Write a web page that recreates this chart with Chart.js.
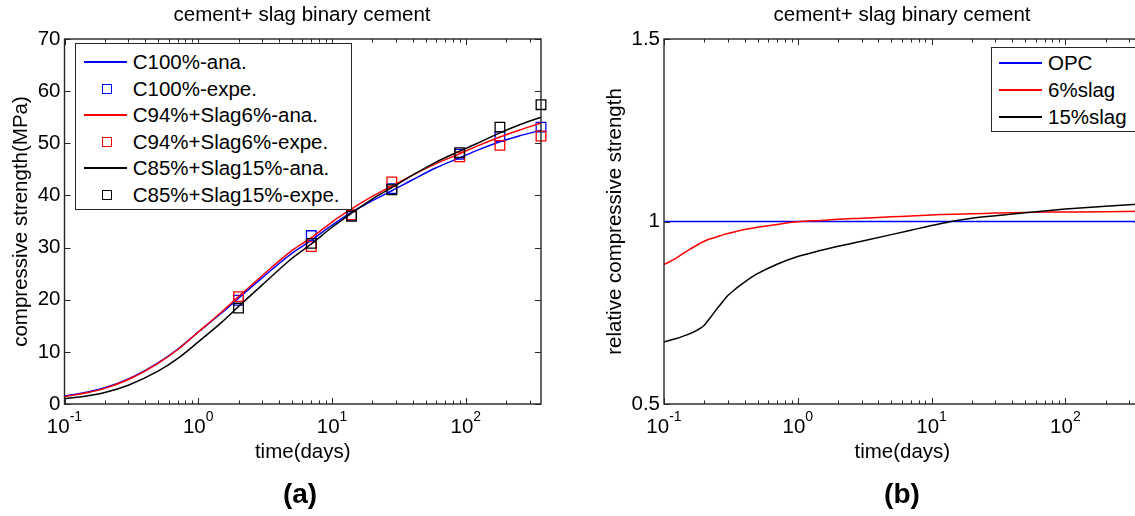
<!DOCTYPE html>
<html><head><meta charset="utf-8">
<script src="https://cdn.jsdelivr.net/npm/chart.js@4.4.1/dist/chart.umd.min.js"></script>
<style>
html,body{margin:0;padding:0;background:#fff;overflow:hidden;width:1135px;height:516px;}
#wrap{position:relative;width:1135px;height:516px;overflow:hidden;font-family:"Liberation Sans",Arial,sans-serif;color:#000;}
canvas{position:absolute;top:0;}
.ttl{position:absolute;top:1.6px;font-size:20.5px;line-height:24px;white-space:nowrap;transform:translateX(-50%);}
.tag{position:absolute;top:477px;font-size:28px;line-height:34px;font-weight:bold;transform:translateX(-50%);}
.legend{position:absolute;border:1px solid #262626;background:#fff;box-sizing:border-box;font-size:20.5px;}
.ln{position:absolute;height:1.5px;}
.mk{position:absolute;width:10px;height:10px;box-sizing:border-box;}
.lbl{position:absolute;white-space:nowrap;}
</style>
</head><body>
<div id="wrap">
  <canvas id="cA" width="560" height="516" style="left:0px"></canvas>
  <canvas id="cB" width="600" height="516" style="left:560px"></canvas>
  <div class="ttl" style="left:302px">cement+ slag binary cement</div>
  <div class="ttl" style="left:902px">cement+ slag binary cement</div>
  <div class="tag" style="left:300px">(a)</div>
  <div class="tag" style="left:902px">(b)</div>
  <div class="legend" id="legA" style="left:75px;top:43px;width:277px;height:167px"></div>
  <div class="legend" id="legB" style="left:991px;top:47px;width:170px;height:85px"></div>
</div>
<script>
// ---------- data: panel (a) ----------
const tAna    = [0.1, 0.15, 0.2, 0.3, 0.5, 0.7, 1, 1.5, 2, 3, 5, 7, 10, 14, 20, 28, 40, 60, 90, 120, 180, 250, 365];
const c100Ana = [1.5, 2.3, 3.1, 4.8, 7.9, 10.5, 13.8, 17.5, 20.3, 24.2, 28.9, 31.4, 34.3, 36.8, 39.0, 40.9, 43.0, 45.3, 47.2, 48.6, 50.3, 51.4, 52.5];
const c94Ana  = [1.4, 2.2, 3.0, 4.7, 7.8, 10.4, 13.8, 17.7, 20.6, 24.6, 29.4, 31.9, 34.9, 37.4, 39.8, 41.8, 43.9, 46.1, 48.0, 49.4, 51.2, 52.5, 53.9];
const c85Ana  = [1.0, 1.6, 2.2, 3.6, 6.3, 8.7, 11.9, 15.7, 18.7, 22.8, 27.9, 30.7, 33.9, 36.6, 39.3, 41.5, 43.9, 46.4, 48.5, 49.9, 52.0, 53.5, 55.0];
const tExp    = [2, 7, 14, 28, 90, 180, 365];
const c100Exp = [19.9, 32.3, 36.2, 41.3, 47.9, 51.3, 53.1];
const c94Exp  = [20.6, 30.2, 36.3, 42.6, 47.4, 49.6, 51.4];
const c85Exp  = [18.4, 30.8, 36.0, 41.1, 48.2, 53.1, 57.4];
// ---------- data: panel (b) ----------
const tRel  = [0.1, 0.12, 0.15, 0.18, 0.2, 0.22, 0.25, 0.28, 0.3, 0.35, 0.4, 0.5, 0.7, 1, 1.5, 2, 3, 5, 7, 10, 12, 15, 20, 30, 50, 100, 200, 365];
const opc   = [1, 1, 1, 1, 1, 1, 1, 1, 1, 1, 1, 1, 1, 1, 1, 1, 1, 1, 1, 1, 1, 1, 1, 1, 1, 1, 1, 1];
const slag6 = [0.882, 0.897, 0.920, 0.937, 0.946, 0.952, 0.958, 0.964, 0.967, 0.973, 0.978, 0.984, 0.992, 0.999, 1.003, 1.006, 1.009, 1.013, 1.015, 1.018, 1.019, 1.020, 1.021, 1.023, 1.025, 1.026, 1.027, 1.028];
const slag15= [0.670, 0.678, 0.690, 0.704, 0.716, 0.735, 0.762, 0.784, 0.797, 0.818, 0.834, 0.857, 0.883, 0.904, 0.921, 0.932, 0.946, 0.964, 0.976, 0.989, 0.995, 1.002, 1.009, 1.016, 1.024, 1.034, 1.042, 1.048];
// ---------- tick labels ----------
const xTickExponents = [-1, 0, 1, 2];
const yTicksB = [0.5, 1, 1.5];

const FONT = '"Liberation Sans", Arial, sans-serif';
const FS = 20.5;
const LW = 1.5;
function pts(xs, ys) { return xs.map((x, i) => ({x: x, y: ys[i]})); }

const axisFrame = {
  id: 'axisFrame',
  afterDraw(chart) {
    const ctx = chart.ctx, a = chart.chartArea, x = chart.scales.x, y = chart.scales.y;
    ctx.save();
    ctx.strokeStyle = '#262626';
    ctx.lineWidth = 1;
    ctx.beginPath();
    for (let k = -1; k <= 2; k++) {
      for (let m = 1; m <= 9; m++) {
        const v = m * Math.pow(10, k);
        if (v < x.min * 0.999 || v > x.max * 1.001) continue;
        const px = Math.round(x.getPixelForValue(v)) + 0.5;
        const len = m === 1 ? 6 : 3.5;
        ctx.moveTo(px, a.bottom); ctx.lineTo(px, a.bottom - len);
        ctx.moveTo(px, a.top); ctx.lineTo(px, a.top + len);
      }
    }
    y.ticks.forEach(t => {
      const py = Math.round(y.getPixelForValue(t.value)) + 0.5;
      ctx.moveTo(a.left, py); ctx.lineTo(a.left + 6, py);
      ctx.moveTo(a.right, py); ctx.lineTo(a.right - 6, py);
    });
    ctx.stroke();
    ctx.lineWidth = 1.4;
    ctx.strokeRect(a.left, a.top, a.right - a.left, a.bottom - a.top);
    ctx.fillStyle = '#000';
    ctx.textBaseline = 'alphabetic';
    ctx.textAlign = 'left';
    xTickExponents.forEach(k => {
      const px = x.getPixelForValue(Math.pow(10, k));
      ctx.font = FS + 'px ' + FONT;
      const wb = ctx.measureText('10').width;
      ctx.font = '14px ' + FONT;
      const ex = String(k);
      const we = ctx.measureText(ex).width;
      const x0 = px - (wb + we) / 2;
      ctx.font = FS + 'px ' + FONT;
      ctx.fillText('10', x0, a.bottom + 29);
      ctx.font = '14px ' + FONT;
      ctx.fillText(ex, x0 + wb, a.bottom + 17);
    });
    ctx.restore();
  }
};

function lineSet(label, xs, ys, color, order) {
  return {label, data: pts(xs, ys), borderColor: color, backgroundColor: color, showLine: true,
          pointRadius: 0, borderWidth: LW, cubicInterpolationMode: 'monotone', order, clip: false};
}
function markSet(label, xs, ys, color, order) {
  return {label, data: pts(xs, ys), borderColor: color, backgroundColor: 'rgba(0,0,0,0)', showLine: false,
          pointStyle: 'rect', pointRadius: 6.8, pointBorderWidth: 1.3, order, clip: false};
}

function makeOpts(yOpts, yTitle, yWidth, yTitlePad, rightPad) {
  return {
    responsive: false, animation: false, events: [],
    layout: {padding: {left: 0, right: rightPad, top: 39, bottom: 0}},
    plugins: {legend: {display: false}, tooltip: {enabled: false}, title: {display: false}},
    scales: {
      x: {type: 'logarithmic', min: 0.1, max: 365,
          grid: {display: false, drawTicks: false}, border: {display: false}, ticks: {display: false},
          title: {display: true, text: 'time(days)', color: '#000', font: {family: FONT, size: FS}, padding: {top: 0, bottom: 51.7}},
          afterFit(s) { s.height = 112; s.paddingLeft = 0; s.paddingRight = 0; }},
      y: Object.assign({
          grid: {display: false, drawTicks: false}, border: {display: false},
          title: {display: true, text: yTitle, color: '#000', font: {family: FONT, size: FS}, padding: {top: yTitlePad, bottom: 0}},
          afterFit(s) { s.width = yWidth; s.paddingTop = 0; s.paddingBottom = 0; }}, yOpts)
    }
  };
}

new Chart(document.getElementById('cA'), {
  type: 'scatter',
  data: {datasets: [
    lineSet('C100%-ana.', tAna, c100Ana, '#0000ff', 6),
    markSet('C100%-expe.', tExp, c100Exp, '#0000ff', 5),
    lineSet('C94%+Slag6%-ana.', tAna, c94Ana, '#ff0000', 4),
    markSet('C94%+Slag6%-expe.', tExp, c94Exp, '#ff0000', 3),
    lineSet('C85%+Slag15%-ana.', tAna, c85Ana, '#000000', 2),
    markSet('C85%+Slag15%-expe.', tExp, c85Exp, '#000000', 1)
  ]},
  options: makeOpts({min: 0, max: 70, ticks: {stepSize: 10, color: '#000', font: {family: FONT, size: FS}, padding: 4}},
                    'compressive strength(MPa)', 64.5, 8.7, 19),
  plugins: [axisFrame]
});

new Chart(document.getElementById('cB'), {
  type: 'scatter',
  data: {datasets: [
    lineSet('OPC', tRel, opc, '#0000ff', 3),
    lineSet('6%slag', tRel, slag6, '#ff0000', 2),
    lineSet('15%slag', tRel, slag15, '#000000', 1)
  ]},
  options: makeOpts({min: 0.5, max: 1.5,
                     afterBuildTicks(s) { s.ticks = yTicksB.map(v => ({value: v})); },
                     ticks: {color: '#000', font: {family: FONT, size: FS}, padding: 4, callback: v => String(v)}},
                    'relative compressive strength', 104, 42.7, 19.4),
  plugins: [axisFrame]
});

// ---------- HTML legends built from the datasets (integer pixel rows) ----------
function buildLegend(el, chart, firstC, rowH, lnL, lnW, mkC, txtL) {
  chart.data.datasets.forEach((ds, i) => {
    const cy = Math.round(firstC + rowH * i);
    if (ds.showLine) {
      const ln = document.createElement('div');
      ln.className = 'ln';
      ln.style.left = lnL + 'px'; ln.style.width = lnW + 'px';
      ln.style.top = (cy - 1) + 'px';
      ln.style.background = ds.borderColor;
      el.appendChild(ln);
    } else {
      const mk = document.createElement('div');
      mk.className = 'mk';
      mk.style.left = (mkC - 5) + 'px';
      mk.style.top = (cy - 5) + 'px';
      mk.style.border = '1.3px solid ' + ds.borderColor;
      el.appendChild(mk);
    }
    const t = document.createElement('div');
    t.className = 'lbl';
    t.style.left = txtL + 'px';
    t.style.top = (cy - 13) + 'px';
    t.style.lineHeight = '26px';
    t.textContent = ds.label;
    el.appendChild(t);
  });
}
buildLegend(document.getElementById('legA'), Chart.getChart('cA'), 18, 26.6, 8, 43, 31, 56.7);
buildLegend(document.getElementById('legB'), Chart.getChart('cB'), 15, 27, 7, 43, 30, 56);
</script>
</body></html>
